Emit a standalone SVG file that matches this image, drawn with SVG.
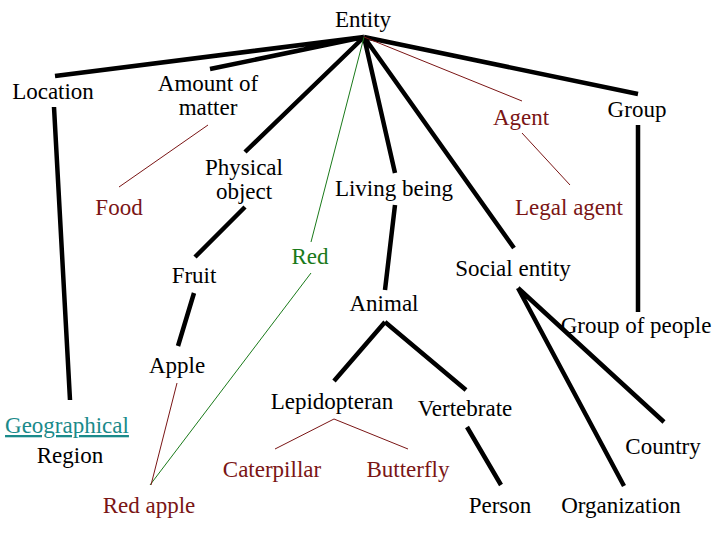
<svg xmlns="http://www.w3.org/2000/svg" width="720" height="540" viewBox="0 0 720 540">
<style>
text{font-family:"Liberation Serif",serif;font-size:23px;text-anchor:middle;fill:#000}
.r{fill:#7a1515}.g{fill:#1a7a1a}.t{fill:#1a8a8a;text-decoration:underline}
.k{stroke:#000;stroke-width:4.5;fill:none}
.tr{stroke:#7a1515;stroke-width:1;fill:none}
.tg{stroke:#1a7a1a;stroke-width:1;fill:none}
</style>
<rect width="720" height="540" fill="#fff"/>
<g id="connectors">
<path class="k" d="M364 37L55 76M364 37L210 69M364 37L245 152M364 37L395 173M364 37L514 248M364 37L638 94"/>
<path class="tg" d="M364 37L311 242M311 273L150 485"/>
<path class="tr" d="M364 37L522 101M208 125L119 187M522 133L570 185M177 383L151 485M334 419L275 449M334 419L408 449"/>
<path class="k" d="M54 107L70 400M638 125L638 312M245 207L195 257M395 205L385 290M194 293L178 346M385 322L334 381M385 322L466 390M518 288L624 486M518 288L664 422M467 427L501 485"/>
</g>
<g id="entity"><text x="363" y="27">Entity</text></g>
<g id="location"><text x="53" y="99">Location</text></g>
<g id="amount"><text x="208" y="91">Amount of</text><text x="208" y="115">matter</text></g>
<g id="agent"><text class="r" x="521" y="125">Agent</text></g>
<g id="group"><text x="637" y="117">Group</text></g>
<g id="physical"><text x="244" y="175">Physical</text><text x="244" y="199">object</text></g>
<g id="food"><text class="r" x="119" y="215">Food</text></g>
<g id="living"><text x="394" y="196">Living being</text></g>
<g id="legal"><text class="r" x="569" y="215">Legal agent</text></g>
<g id="red"><text class="g" x="310" y="264">Red</text></g>
<g id="fruit"><text x="194" y="283">Fruit</text></g>
<g id="social"><text x="513" y="276">Social entity</text></g>
<g id="animal"><text x="384" y="311">Animal</text></g>
<g id="groupofpeople"><text x="636" y="333">Group of people</text></g>
<g id="apple"><text x="177" y="373">Apple</text></g>
<g id="lepidopteran"><text x="332" y="409">Lepidopteran</text></g>
<g id="vertebrate"><text x="465" y="416">Vertebrate</text></g>
<g id="geo"><text class="t" x="67" y="433">Geographical</text><text x="70" y="463">Region</text></g>
<g id="country"><text x="663" y="454">Country</text></g>
<g id="caterpillar"><text class="r" x="272" y="477">Caterpillar</text></g>
<g id="butterfly"><text class="r" x="408" y="477">Butterfly</text></g>
<g id="redapple"><text class="r" x="149" y="513">Red apple</text></g>
<g id="person"><text x="500" y="513">Person</text></g>
<g id="organization"><text x="621" y="513">Organization</text></g>
</svg>
